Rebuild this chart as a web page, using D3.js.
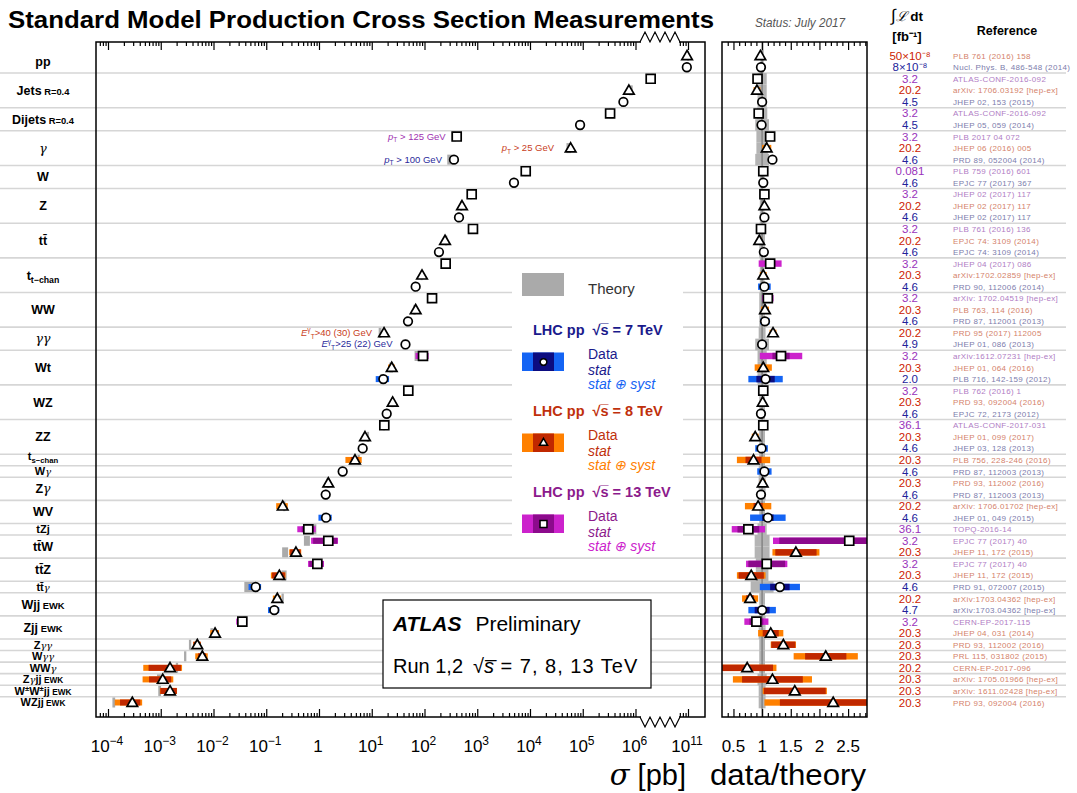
<!DOCTYPE html>
<html>
<head>
<meta charset="utf-8">
<script src="https://cdn.jsdelivr.net/npm/d3@7"></script>
<style>
  body { margin: 0; background: #fff; }
  svg { display: block; }
  text { font-family: "Liberation Sans", Arial, sans-serif; }
</style>
</head>
<body>
<script>
// process names (left column), one entry per group
const procLabels = [
  [['pp']],
  [['Jets'], [' R=0.4', 's']],
  [['Dijets'], [' R=0.4', 's']],
  [['γ', 'g']],
  [['W']],
  [['Z']],
  [['t'], ['t', 'bar']],
  [['t'], ['t−chan', 'sub']],
  [['WW']],
  [['γγ', 'g']],
  [['Wt']],
  [['WZ']],
  [['ZZ']],
  [['t'], ['s−chan', 'sub']],
  [['W'], ['γ', 'g']],
  [['Z'], ['γ', 'g']],
  [['WV']],
  [['tZj']],
  [['t'], ['t', 'bar'], ['W']],
  [['t'], ['t', 'bar'], ['Z']],
  [['t'], ['t', 'bar'], ['γ', 'g']],
  [['Wjj'], [' EWK', 's']],
  [['Zjj'], [' EWK', 's']],
  [['Z'], ['γγ', 'g']],
  [['W'], ['γγ', 'g']],
  [['WW'], ['γ', 'g']],
  [['Z'], ['γ', 'g'], ['jj'], [' EWK', 's']],
  [['W'], ['±', 'sup'], ['W'], ['±', 'sup'], ['jj'], [' EWK', 's']],
  [['WZjj'], [' EWK', 's']]
];

// one entry per measurement
const procOf = [0,0, 1,1,1, 2,2, 3,3,3, 4,4, 5,5,5, 6,6,6, 7,7,7, 8,8,8, 9,9, 10,10,10,
  11,11,11, 12,12,12, 13, 14, 15,15, 16,16, 17, 18,18, 19,19, 20, 21,21, 22,22, 23, 24, 25, 26, 27, 28];
const energy = [8,7, 13,8,7, 13,7, 13,8,7, 13,7, 13,8,7, 13,8,7, 13,8,7, 13,8,7, 8,7, 13,8,7,
  13,8,7, 13,8,7, 8, 7, 8,7, 8,7, 13, 13,8, 13,8, 7, 8,7, 13,8, 8, 8, 8, 8, 8, 8];
const sigma = [9.6e10, 9.5e10, 1.94e6, 7.5e5, 5.9e5, 3.3e5, 8.9e4, 408, 5.9e4, 362, 8300, 4970,
  785, 514, 451, 830, 245, 188, 252, 89.7, 68, 139, 68, 48.7, 17.1, 43.6, 93.7, 23.9, 16.6,
  49.3, 24.9, 19.2, 17.3, 7.45, 6.73, 4.81, 2.81, 1.50, 1.34, 0.205, 1.36, 0.627, 1.50, 0.366,
  0.93, 0.177, 0.063, 0.162, 0.142, 0.0352, 0.0107, 0.00493, 0.00614, 0.0015, 0.00109, 0.0015, 0.000289];
const theory = [9.9e10, 9.7e10, 2.1e6, 8.2e5, 5.9e5, 3.5e5, 9.0e4, 358, 5.46e4, 307, 8140, 4870,
  755, 494, 434, 847, 258, 183, 221, 87.9, 65.4, 126, 64.8, 46.4, 14.4, 43.6, 70.5, 23.4, 15.7,
  48.3, 24.7, 19.6, 17.0, 8.47, 6.8, 5.66, 2.70, 1.49, 1.37, 0.22, 1.24, 0.825, 0.595, 0.230,
  0.861, 0.219, 0.048, 0.205, 0.142, 0.0391, 0.0093, 0.0036, 0.00291, 0.00203, 0.000924, 0.000955, 0.000129];
const ratio = [0.97,0.98, 0.92,0.91,1.00, 0.94,0.99, 1.14,1.08,1.18, 1.02,1.02, 1.04,1.04,1.04,
  0.98,0.95,1.03, 1.14,1.02,1.04, 1.10,1.05,1.05, 1.19,1.00, 1.33,1.02,1.06, 1.02,1.01,0.98,
  1.02,0.88,0.99, 0.85, 1.04, 1.01,0.98, 0.93,1.10, 0.76, 2.52,1.59, 1.08,0.81, 1.31, 0.79,1.00,
  0.90,1.15, 1.37, 2.11, 0.74, 1.18, 1.57, 2.24];
const ratioStat = [0.005,0.005, 0.01,0.01,0.01, 0.01,0.01, 0.01,0.01,0.01, 0.01,0.005, 0.005,0.005,0.005,
  0.01,0.01,0.01, 0.03,0.01,0.02, 0.04,0.01,0.02, 0.01,0.01, 0.15,0.03,0.16, 0.03,0.01,0.02,
  0.02,0.03,0.06, 0.14, 0.03, 0.02,0.02, 0.08,0.10, 0.19, 1.22,0.36, 0.32,0.22, 0.17, 0.07,0.13,
  0.12,0.14, 0.21, 0.36, 0.45, 0.53, 0.54, 0.93];
const ratioTot = [0.02,0.02, 0.05,0.06,0.05, 0.05,0.05, 0.05,0.08,0.04, 0.03,0.02, 0.03,0.02,0.02,
  0.04,0.04,0.04, 0.20,0.06,0.11, 0.10,0.07,0.08, 0.06,0.07, 0.37,0.15,0.30, 0.05,0.04,0.06,
  0.05,0.06,0.11, 0.29, 0.125, 0.05,0.05, 0.23,0.31, 0.29, 1.33,0.41, 0.36,0.25, 0.35, 0.14,0.24,
  0.21,0.22, 0.22, 0.56, 0.51, 0.69, 0.56, 1.20];
const theoryErr = [0.03,0.03, 0.08,0.08,0.08, 0.09,0.12, 0.1,0.1,0.12, 0.04,0.04, 0.04,0.04,0.04,
  0.05,0.05,0.05, 0.04,0.04,0.04, 0.05,0.05,0.05, 0.06,0.12, 0.08,0.08,0.08, 0.05,0.05,0.05,
  0.05,0.05,0.05, 0.05, 0.06, 0.06,0.06, 0.05,0.05, 0.08, 0.13,0.13, 0.11,0.11, 0.2, 0.05,0.05,
  0.06,0.06, 0.05, 0.05, 0.05, 0.08, 0.06, 0.06];
const lumi = ['50×10⁻⁸','8×10⁻⁸','3.2','20.2','4.5','3.2','4.5','3.2','20.2','4.6','0.081','4.6',
  '3.2','20.2','4.6','3.2','20.2','4.6','3.2','20.3','4.6','3.2','20.3','4.6','20.2','4.9',
  '3.2','20.3','2.0','3.2','20.3','4.6','36.1','20.3','4.6','20.3','4.6','20.3','4.6','20.2','4.6',
  '36.1','3.2','20.3','3.2','20.3','4.6','20.2','4.7','3.2','20.3','20.3','20.3','20.2','20.3','20.3','20.3'];
const refs = ['PLB 761 (2016) 158', 'Nucl. Phys. B, 486-548 (2014)',
  'ATLAS-CONF-2016-092', 'arXiv: 1706.03192 [hep-ex]', 'JHEP 02, 153 (2015)',
  'ATLAS-CONF-2016-092', 'JHEP 05, 059 (2014)',
  'PLB 2017 04 072', 'JHEP 06 (2016) 005', 'PRD 89, 052004 (2014)',
  'PLB 759 (2016) 601', 'EPJC 77 (2017) 367',
  'JHEP 02 (2017) 117', 'JHEP 02 (2017) 117', 'JHEP 02 (2017) 117',
  'PLB 761 (2016) 136', 'EPJC 74: 3109 (2014)', 'EPJC 74: 3109 (2014)',
  'JHEP 04 (2017) 086', 'arXiv:1702.02859 [hep-ex]', 'PRD 90, 112006 (2014)',
  'arXiv: 1702.04519 [hep-ex]', 'PLB 763, 114 (2016)', 'PRD 87, 112001 (2013)',
  'PRD 95 (2017) 112005', 'JHEP 01, 086 (2013)',
  'arXiv:1612.07231 [hep-ex]', 'JHEP 01, 064 (2016)', 'PLB 716, 142-159 (2012)',
  'PLB 762 (2016) 1', 'PRD 93, 092004 (2016)', 'EPJC 72, 2173 (2012)',
  'ATLAS-CONF-2017-031', 'JHEP 01, 099 (2017)', 'JHEP 03, 128 (2013)',
  'PLB 756, 228-246 (2016)', 'PRD 87, 112003 (2013)',
  'PRD 93, 112002 (2016)', 'PRD 87, 112003 (2013)',
  'arXiv: 1706.01702 [hep-ex]', 'JHEP 01, 049 (2015)',
  'TOPQ-2016-14', 'EPJC 77 (2017) 40', 'JHEP 11, 172 (2015)',
  'EPJC 77 (2017) 40', 'JHEP 11, 172 (2015)', 'PRD 91, 072007 (2015)',
  'arXiv:1703.04362 [hep-ex]', 'arXiv:1703.04362 [hep-ex]',
  'CERN-EP-2017-115', 'JHEP 04, 031 (2014)', 'PRD 93, 112002 (2016)',
  'PRL 115, 031802 (2015)', 'CERN-EP-2017-096', 'arXiv: 1705.01966 [hep-ex]',
  'arXiv: 1611.02428 [hep-ex]', 'PRD 93, 092004 (2016)'];

// axis tick labels
const mainExp = [-4, -3, -2, -1, 0, 1, 2, 3, 4, 5, 6, 11];
const ratioMajor = [0.5, 1, 1.5, 2, 2.5];

const colStat = {7: '#0c0c80', 8: '#c02800', 13: '#8c0a8c'};
const colTot = {7: '#1464f4', 8: '#ff8000', 13: '#cc22cc'};
const colText = {7: '#1a1a8c', 8: '#c0300c', 13: '#8c1a8c'};
const colLumi = {7: '#22229a', 8: '#cc2200', 13: '#9933bb'};
const colRef = {7: '#7c7cac', 8: '#d4826a', 13: '#b07cc4'};

const W = 1077, H = 793;
const mainL = 96, mainR = 705, pTop = 42, pBot = 717;
const ratL = 722, ratR = 867;

const svg = d3.select('body').append('svg').attr('width', W).attr('height', H);

const y = d3.scaleLinear().domain([0, 56]).range([55.7, 702.5]);
const xLo = d3.scaleLog().domain([1, 1e6]).range([319, 635.5]);
const xHi = d3.scaleLog().domain([1e10, 1e11]).range([635.25, 688]);
const xs = v => v > 1e9 ? xHi(v) : xLo(v);
const xr = d3.scaleLinear().domain([0.3, 2.83]).range([ratL, ratR]);
const rows = d3.range(sigma.length);

function rich(sel, parts, size, weight, gScale) {
  let shift = 0;
  parts.forEach(([s, k]) => {
    const t = sel.append('tspan');
    let fs = size, target = 0, txt = s;
    if (k === 's') fs = size * 0.75;
    if (k === 'sub') { fs = size * 0.7; target = size * 0.28; }
    if (k === 'sup') { fs = size * 0.7; target = -size * 0.4; }
    if (k === 'g') { t.attr('font-style', 'italic').attr('font-family', 'DejaVu Serif'); fs = size * (gScale || 1); }
    if (k === 'i') t.attr('font-style', 'italic');
    if (k === 'bar') txt = s + '\u0304';
    t.text(txt).attr('font-size', fs).attr('font-weight', k === 'g' ? 'normal' : weight);
    if (target !== shift) { t.attr('dy', target - shift); shift = target; }
  });
}

// title
svg.append('text').attr('x', 8).attr('y', 28)
  .attr('font-family', '"Liberation Sans Narrow", "Liberation Sans", sans-serif')
  .attr('font-weight', 'bold').attr('font-size', 24)
  .attr('textLength', 706).attr('lengthAdjust', 'spacingAndGlyphs')
  .text('Standard Model Production Cross Section Measurements');
svg.append('text').attr('x', 800).attr('y', 27).attr('text-anchor', 'middle')
  .attr('font-style', 'italic').attr('font-size', 12.5).attr('fill', '#555')
  .attr('textLength', 90).attr('lengthAdjust', 'spacingAndGlyphs')
  .text('Status: July 2017');
const lh = svg.append('text').attr('x', 907).attr('y', 21).attr('text-anchor', 'middle')
  .attr('font-weight', 'bold').attr('font-size', 13.5);
lh.append('tspan').attr('font-weight', 'normal').attr('font-size', 17).text('∫');
lh.append('tspan').attr('font-family', 'DejaVu Serif').attr('font-style', 'italic').attr('font-weight', 'normal').text('ℒ');
lh.append('tspan').text(' dt');
svg.append('text').attr('x', 907).attr('y', 41).attr('text-anchor', 'middle')
  .attr('font-weight', 'bold').attr('font-size', 13).text('[fb⁻¹]');
svg.append('text').attr('x', 1007).attr('y', 35).attr('text-anchor', 'middle')
  .attr('font-weight', 'bold').attr('font-size', 12.5).text('Reference');

// group separator lines
const sepY = [];
for (let i = 1; i < procOf.length; i++) {
  if (procOf[i] !== procOf[i - 1]) sepY.push((y(i - 1) + y(i)) / 2);
}
svg.append('g').selectAll('line').data(sepY).join('line')
  .attr('x1', 0).attr('x2', 1066).attr('y1', d => d).attr('y2', d => d)
  .attr('stroke', '#d6d6d6').attr('stroke-width', 1.6);

// process labels
procLabels.forEach((parts, p) => {
  const idx = rows.filter(i => procOf[i] === p);
  const cy = d3.mean(idx, i => y(i));
  const single = idx.length === 1;
  const fs = single ? 11 : 12.5;
  const lift = parts.some(q => q[1] === 'sub') && single ? 3.5 : 0;
  const t = svg.append('text').attr('x', 43).attr('y', cy + fs * 0.36 - lift).attr('text-anchor', 'middle');
  rich(t, parts, fs, 'bold', single ? 0.9 : 1);
});

// legend and ATLAS boxes (white backgrounds)
svg.append('rect').attr('x', 512).attr('y', 262).attr('width', 171).attr('height', 292).attr('fill', '#fff');
svg.append('rect').attr('x', 383).attr('y', 600).attr('width', 268).attr('height', 88)
  .attr('fill', '#fff').attr('stroke', '#000').attr('stroke-width', 1.2);

const defs = svg.append('defs');
defs.append('clipPath').attr('id', 'clipMain').append('rect')
  .attr('x', mainL).attr('y', pTop).attr('width', mainR - mainL).attr('height', pBot - pTop);
defs.append('clipPath').attr('id', 'clipRat').append('rect')
  .attr('x', ratL).attr('y', pTop).attr('width', ratR - ratL).attr('height', pBot - pTop);

const symArea = {7: 58, 8: 48, 13: 80};
const symType = {7: d3.symbolCircle, 8: d3.symbolTriangle, 13: d3.symbolSquare};
const sym = (e, s) => d3.symbol(symType[e], symArea[e] * (s || 1))();

// ---- main panel ----
const gM = svg.append('g').attr('clip-path', 'url(#clipMain)');
gM.selectAll('rect.th').data(rows).join('rect')
  .attr('x', i => xs(theory[i] * (1 - theoryErr[i])))
  .attr('width', i => Math.max(2, xs(theory[i] * (1 + theoryErr[i])) - xs(theory[i] * (1 - theoryErr[i]))))
  .attr('y', i => y(i) - 5).attr('height', 10).attr('fill', '#aaaaaa');
['tot', 'stat'].forEach(kind => {
  const err = kind === 'tot' ? ratioTot : ratioStat;
  gM.append('g').selectAll('rect').data(rows).join('rect')
    .attr('x', i => xs(sigma[i] * (1 - err[i] / ratio[i])))
    .attr('width', i => xs(sigma[i] * (1 + err[i] / ratio[i])) - xs(sigma[i] * (1 - err[i] / ratio[i])))
    .attr('y', i => y(i) - 3).attr('height', 6)
    .attr('fill', i => kind === 'tot' ? colTot[energy[i]] : colStat[energy[i]]);
});
gM.append('g').selectAll('path').data(rows).join('path')
  .attr('transform', i => `translate(${xs(sigma[i])},${y(i) + (energy[i] === 8 ? 0.8 : 0)})`)
  .attr('d', i => sym(energy[i]))
  .attr('fill', '#fff').attr('stroke', '#000').attr('stroke-width', 1.7);

// annotations
function note(x, yy, anchor, color, parts) {
  const t = svg.append('text').attr('x', x).attr('y', yy + 3).attr('text-anchor', anchor).attr('fill', color);
  rich(t, parts, 9.5, 'normal');
}
note(xs(sigma[7]) - 11, y(7), 'end', '#a030b0', [['p', 'i'], ['T', 'sub'], [' > 125 GeV']]);
note(xs(sigma[9]) - 12, y(9), 'end', '#2a2a9a', [['p', 'i'], ['T', 'sub'], [' > 100 GeV']]);
note(xs(sigma[8]) - 69, y(8), 'start', '#c8401c', [['p', 'i'], ['T', 'sub'], [' > 25 GeV']]);
note(xs(sigma[24]) - 12, y(24), 'end', '#c8401c', [['E', 'i'], ['γ', 'sup'], ['T', 'sub'], ['>40 (30) GeV']]);
note(xs(sigma[25]) - 13, y(25), 'end', '#2a2a9a', [['E', 'i'], ['γ', 'sup'], ['T', 'sub'], ['>25 (22) GeV']]);

// ---- ratio panel ----
const gR = svg.append('g').attr('clip-path', 'url(#clipRat)');
gR.append('g').selectAll('rect').data(rows).join('rect')
  .attr('x', i => xr(1 - theoryErr[i])).attr('width', i => xr(1 + theoryErr[i]) - xr(1 - theoryErr[i]))
  .attr('y', i => y(i) - 5.8).attr('height', 11.6).attr('fill', '#b4b4b4');
gR.append('line').attr('x1', xr(1)).attr('x2', xr(1)).attr('y1', pTop).attr('y2', pBot)
  .attr('stroke', '#888').attr('stroke-width', 1.6);
['tot', 'stat'].forEach(kind => {
  const err = kind === 'tot' ? ratioTot : ratioStat;
  gR.append('g').selectAll('rect').data(rows).join('rect')
    .attr('x', i => xr(ratio[i] - err[i]))
    .attr('width', i => xr(ratio[i] + err[i]) - xr(ratio[i] - err[i]))
    .attr('y', i => y(i) - 3.2).attr('height', 6.4)
    .attr('fill', i => kind === 'tot' ? colTot[energy[i]] : colStat[energy[i]]);
});
gR.append('g').selectAll('path').data(rows).join('path')
  .attr('transform', i => `translate(${xr(ratio[i])},${y(i) + (energy[i] === 8 ? 0.8 : 0)})`)
  .attr('d', i => sym(energy[i]))
  .attr('fill', '#fff').attr('stroke', '#000').attr('stroke-width', 1.7);

// ---- reference column ----
svg.append('g').selectAll('text').data(rows).join('text')
  .attr('x', 910).attr('y', i => y(i) + 4).attr('text-anchor', 'middle')
  .attr('font-size', 11.5).attr('fill', i => colLumi[energy[i]]).text(i => lumi[i]);
svg.append('g').selectAll('text').data(rows).join('text')
  .attr('x', 953).attr('y', i => y(i) + 3).attr('font-size', 8).attr('letter-spacing', 0.35)
  .attr('fill', i => colRef[energy[i]]).text(i => refs[i]);

// ---- legend ----
const lg = svg.append('g');
lg.append('rect').attr('x', 522).attr('y', 273).attr('width', 42).attr('height', 23).attr('fill', '#aaaaaa');
lg.append('text').attr('x', 588).attr('y', 294).attr('font-size', 15).attr('fill', '#333').text('Theory');
const legE = [[7, 330], [8, 411], [13, 492]];
legE.forEach(([e, cy]) => {
  const t = lg.append('text').attr('x', 533).attr('y', cy + 5).attr('font-weight', 'bold')
    .attr('font-size', 14.5).attr('fill', colText[e]);
  t.append('tspan').text('LHC pp');
  t.append('tspan').attr('dx', 8).text('√');
  t.append('tspan').text('s\u0305');
  t.append('tspan').text(` = ${e} TeV`);
  const by = cy + 22.5;
  lg.append('rect').attr('x', 522).attr('y', by).attr('width', 42).attr('height', 18.5).attr('fill', colTot[e]);
  lg.append('rect').attr('x', 533).attr('y', by).attr('width', 21).attr('height', 18.5).attr('fill', colStat[e]);
  lg.append('path').attr('transform', `translate(543.5,${by + 9.5})`).attr('d', sym(e, 0.6))
    .attr('fill', '#fff').attr('stroke', '#000').attr('stroke-width', 1.5);
  lg.append('text').attr('x', 588).attr('y', by + 6).attr('font-size', 14).attr('fill', colText[e]).text('Data');
  lg.append('text').attr('x', 588).attr('y', by + 22).attr('font-size', 14).attr('font-style', 'italic')
    .attr('fill', colText[e]).text('stat');
  lg.append('text').attr('x', 588).attr('y', by + 36.5).attr('font-size', 14).attr('font-style', 'italic')
    .attr('fill', colTot[e]).text('stat ⊕ syst');
});

// ATLAS box text
const at = svg.append('text').attr('x', 393).attr('y', 631).attr('font-size', 21);
at.append('tspan').attr('font-weight', 'bold').attr('font-style', 'italic').text('ATLAS');
at.append('tspan').attr('dx', 14).text('Preliminary');
const rn = svg.append('text').attr('x', 393).attr('y', 673).attr('font-size', 20);
rn.append('tspan').text('Run 1,2');
rn.append('tspan').attr('dx', 10).text('√');
rn.append('tspan').attr('font-style', 'italic').text('s\u0305');
rn.append('tspan').attr('letter-spacing', 1).text(' = 7, 8, 13 TeV');

// ---- axes ----
const gAx = svg.append('g');
function tickSet(axisFn, scale, vals, size, yPos) {
  gAx.append('g').attr('transform', `translate(0,${yPos})`)
    .call(axisFn(scale).tickValues(vals).tickSize(-size).tickFormat(''))
    .call(g => g.select('.domain').remove())
    .selectAll('line').attr('stroke', '#000').attr('stroke-width', 1.2);
}
const loMinor = [], loMajor = d3.range(-4, 7).map(e => Math.pow(10, e));
for (let e = -5; e <= 6; e++) for (let m = 2; m <= 9; m++) {
  const v = m * Math.pow(10, e);
  if (xLo(v) > mainL + 1 && xLo(v) < 637) loMinor.push(v);
}
const hiMinor = [7e10, 8e10, 9e10], hiMajor = [1e11];
const ratMinor = d3.range(3, 29).map(k => k / 10).filter(v => Math.abs(v * 2 - Math.round(v * 2)) > 0.01);
[[d3.axisBottom, pBot], [d3.axisTop, pTop]].forEach(([fn, yy]) => {
  tickSet(fn, xLo, loMinor, 4, yy);
  tickSet(fn, xLo, loMajor, 8, yy);
  tickSet(fn, xHi, hiMinor, 4, yy);
  tickSet(fn, xHi, hiMajor, 8, yy);
  tickSet(fn, xr, ratMinor.filter(v => xr(v) > ratL + 1), 4, yy);
  tickSet(fn, xr, ratioMajor, 8, yy);
});

// frames
svg.append('rect').attr('x', mainL).attr('y', pTop).attr('width', mainR - mainL).attr('height', pBot - pTop)
  .attr('fill', 'none').attr('stroke', '#000').attr('stroke-width', 1.5);
svg.append('rect').attr('x', ratL).attr('y', pTop).attr('width', ratR - ratL).attr('height', pBot - pTop)
  .attr('fill', 'none').attr('stroke', '#000').attr('stroke-width', 1.5);

// axis break
[[pTop, -1], [pBot, 1]].forEach(([yy, dir]) => {
  svg.append('rect').attr('x', 641).attr('y', yy - 2).attr('width', 38).attr('height', 4).attr('fill', '#fff');
  const pts = d3.range(9).map(k => [640 + k * 5, yy + (k % 2 ? dir * 10 : 0)]);
  svg.append('path').attr('d', d3.line()(pts)).attr('fill', 'none').attr('stroke', '#000').attr('stroke-width', 1.2);
});

// tick labels
mainExp.forEach(e => {
  const x = e === 11 ? xHi(1e11) : xLo(Math.pow(10, e));
  const t = svg.append('text').attr('x', x - 1).attr('y', 752).attr('text-anchor', 'middle')
    .attr('font-size', 17);
  if (e === 0) t.text('1');
  else {
    t.append('tspan').text('10');
    t.append('tspan').attr('dy', -7).attr('font-size', 12).text(String(e).replace('-', '−'));
  }
});
ratioMajor.forEach(v => {
  svg.append('text').attr('x', xr(v)).attr('y', 752).attr('text-anchor', 'middle')
    .attr('font-size', 17).text(String(v));
});

// axis titles
const st = svg.append('text').attr('x', 686).attr('y', 785).attr('text-anchor', 'end').attr('font-size', 29);
st.append('tspan').attr('font-style', 'italic').attr('font-family', 'DejaVu Serif').text('σ');
st.append('tspan').text(' [pb]');
svg.append('text').attr('x', 710).attr('y', 785).attr('font-size', 29)
  .attr('textLength', 156).attr('lengthAdjust', 'spacingAndGlyphs').text('data/theory');
</script>
</body>
</html>
